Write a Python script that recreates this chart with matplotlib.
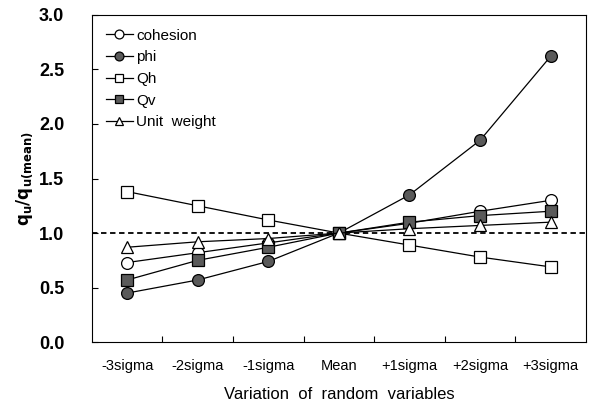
import numpy as np
import matplotlib.pyplot as plt

plt.rcParams['font.family'] = ['Liberation Sans', 'DejaVu Sans']

# categories on the x axis
categories = ["-3sigma", "-2sigma", "-1sigma", "Mean", "+1sigma", "+2sigma", "+3sigma"]

# ratio q_u / q_u(mean) for each random variable
cohesion = [0.73, 0.82, 0.91, 1.00, 1.09, 1.20, 1.30]
phi = [0.45, 0.57, 0.74, 1.00, 1.35, 1.85, 2.62]
qh = [1.38, 1.25, 1.12, 1.00, 0.89, 0.78, 0.69]
qv = [0.57, 0.75, 0.87, 1.00, 1.10, 1.16, 1.20]
unit_weight = [0.87, 0.92, 0.95, 1.00, 1.04, 1.07, 1.10]

x = np.arange(len(categories))

fig = plt.figure(figsize=(5.93, 4.03), dpi=100)
ax = fig.add_axes([0.155, 0.151, 0.833, 0.812])

ax.axhline(1.0, color="black", linestyle=(0, (3, 2)), linewidth=1.3, zorder=1)

style = dict(color="black", linewidth=0.9, markersize=8.5, markeredgecolor="black",
             markeredgewidth=0.9)
ax.plot(x, cohesion, marker="o", markerfacecolor="white", label="cohesion", **style)
ax.plot(x, phi, marker="o", markerfacecolor="#5a5a5a", label="phi", **style)
ax.plot(x, qh, marker="s", markerfacecolor="white", label="Qh", **style)
ax.plot(x, qv, marker="s", markerfacecolor="#5a5a5a", label="Qv", **style)
ax.plot(x, unit_weight, marker="^", markerfacecolor="white", label="Unit  weight", **style)

ax.set_xlim(-0.5, len(categories) - 0.5)
ax.set_ylim(0, 3.0)
ax.set_yticks(np.arange(0, 3.01, 0.5))
ax.set_yticklabels([f"{v:.1f}" for v in np.arange(0, 3.01, 0.5)],
                   fontsize=13, fontweight="bold")

# ticks between categories, labels at the centres
ax.set_xticks(x[:-1] + 0.5)
ax.set_xticklabels([])
ax.set_xticks(x, minor=True)
ax.set_xticklabels(categories, minor=True, fontsize=10.5)
ax.tick_params(axis="x", which="minor", length=0, pad=12)
ax.tick_params(axis="x", which="major", direction="in", length=4)
ax.tick_params(axis="y", direction="in", length=4, pad=20)

ax.set_xlabel("Variation  of  random  variables", fontsize=12, labelpad=10)
ax.set_ylabel(r"$\mathbf{q_u/q_{u(mean)}}$", fontsize=12, labelpad=3)

ax.legend(loc="upper left", frameon=False, fontsize=11, handlelength=1.8,
          handletextpad=0.2, labelspacing=0.5, borderaxespad=0.5, markerscale=0.75)

fig.savefig("out.png", dpi=100)
